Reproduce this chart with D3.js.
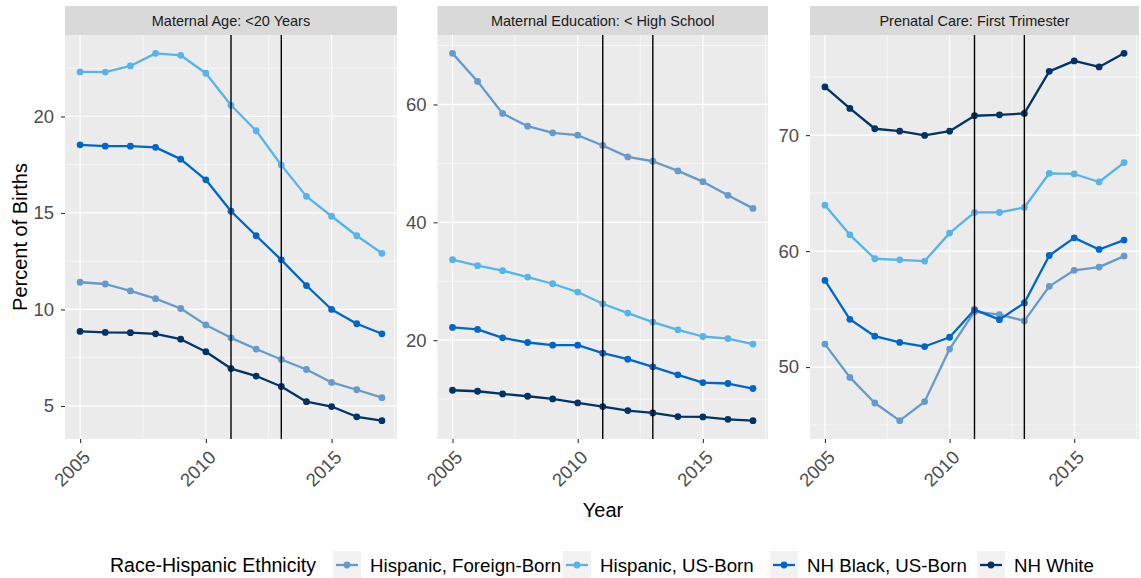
<!DOCTYPE html>
<html><head><meta charset="utf-8">
<script src="https://cdn.jsdelivr.net/npm/d3@7"></script>
<style>
body{margin:0;background:#fff;}
svg text{font-family:"Liberation Sans",Arial,sans-serif;}
</style></head>
<body><svg id="c" width="1141" height="578"></svg>
<script>
const years = [2005,2006,2007,2008,2009,2010,2011,2012,2013,2014,2015,2016,2017];
const seriesNames = ["Hispanic, Foreign-Born","Hispanic, US-Born","NH Black, US-Born","NH White"];
const seriesColors = ["#6699CC","#56B4E9","#0066CC","#003366"];
const panelTitles = ["Maternal Age: <20 Years","Maternal Education: < High School","Prenatal Care: First Trimester"];
const xTicks = [2005,2010,2015];
const vLines = [2011,2013];
const yTicks1 = [5,10,15,20];
const yTicks2 = [20,40,60];
const yTicks3 = [50,60,70];

// Panel 1: Maternal age <20
const age_hispFB = [11.41,11.32,10.96,10.56,10.05,9.20,8.53,7.95,7.41,6.89,6.22,5.84,5.43];
const age_hispUS = [22.31,22.30,22.62,23.27,23.17,22.24,20.58,19.26,17.48,15.86,14.83,13.82,12.91];
const age_black  = [18.53,18.46,18.46,18.40,17.79,16.72,15.09,13.82,12.57,11.24,10.00,9.26,8.74];
const age_white  = [8.86,8.81,8.80,8.74,8.46,7.81,6.94,6.55,6.01,5.22,4.97,4.44,4.24];
// Panel 2: Maternal education < high school
const edu_hispFB = [68.67,63.91,58.47,56.31,55.19,54.78,53.03,51.10,50.36,48.72,46.90,44.58,42.36];
const edu_hispUS = [33.66,32.64,31.79,30.71,29.57,28.16,26.17,24.59,23.06,21.75,20.62,20.27,19.33];
const edu_black  = [22.16,21.82,20.40,19.60,19.15,19.15,17.79,16.77,15.47,14.11,12.80,12.64,11.79];
const edu_white  = [11.50,11.33,10.88,10.48,10.03,9.35,8.73,8.05,7.65,7.03,6.97,6.57,6.34];
// Panel 3: Prenatal care first trimester
const pnc_hispFB = [51.98,49.11,46.90,45.38,47.02,51.55,54.78,54.52,53.98,56.96,58.34,58.62,59.57];
const pnc_hispUS = [63.96,61.40,59.34,59.25,59.14,61.55,63.33,63.33,63.76,66.71,66.65,65.96,67.63];
const pnc_black  = [57.47,54.12,52.66,52.12,51.77,52.57,54.95,54.09,55.53,59.62,61.14,60.14,60.95];
const pnc_white  = [74.16,72.30,70.55,70.34,69.97,70.34,71.67,71.75,71.87,75.50,76.40,75.88,77.05];

const panels = [
  {title:panelTitles[0], yTicks:yTicks1, series:[age_hispFB,age_hispUS,age_black,age_white], x0:65, x1:397},
  {title:panelTitles[1], yTicks:yTicks2, series:[edu_hispFB,edu_hispUS,edu_black,edu_white], x0:437.5, x1:768},
  {title:panelTitles[2], yTicks:yTicks3, series:[pnc_hispFB,pnc_hispUS,pnc_black,pnc_white], x0:810, x1:1139}
];

const svg = d3.select("#c");
const pTop = 35, pBottom = 439, stripTop = 6;

function expand(lo,hi){const r=hi-lo;return [lo-0.05*r, hi+0.05*r];}

panels.forEach(p=>{
  const xd = expand(d3.min(years), d3.max(years));
  const x = d3.scaleLinear().domain(xd).range([p.x0,p.x1]);
  const allv = p.series.flat();
  const yd = expand(d3.min(allv), d3.max(allv));
  const y = d3.scaleLinear().domain(yd).range([pBottom,pTop]);
  const g = svg.append("g");
  g.append("rect").attr("x",p.x0).attr("y",stripTop).attr("width",p.x1-p.x0).attr("height",pTop-stripTop).attr("fill","#d9d9d9");
  g.append("text").attr("x",(p.x0+p.x1)/2).attr("y",(stripTop+pTop)/2).attr("dy","0.35em")
    .attr("text-anchor","middle").attr("font-size","14.5px").attr("fill","#1a1a1a").text(p.title);
  g.append("rect").attr("x",p.x0).attr("y",pTop).attr("width",p.x1-p.x0).attr("height",pBottom-pTop).attr("fill","#ebebeb");
  const yStep = p.yTicks[1]-p.yTicks[0];
  const yMinor = [];
  for(let v=p.yTicks[0]-yStep/2; v<=yd[1]; v+=yStep){ if(v>=yd[0]) yMinor.push(v); }
  const xMinor = [];
  for(let v=xTicks[0]-2.5; v<=xd[1]; v+=5){ if(v>=xd[0]) xMinor.push(v); }
  g.selectAll(null).data(yMinor).enter().append("line")
    .attr("x1",p.x0).attr("x2",p.x1).attr("y1",d=>y(d)).attr("y2",d=>y(d))
    .attr("stroke","#fff").attr("stroke-width",0.6);
  g.selectAll(null).data(xMinor).enter().append("line")
    .attr("y1",pTop).attr("y2",pBottom).attr("x1",d=>x(d)).attr("x2",d=>x(d))
    .attr("stroke","#fff").attr("stroke-width",0.6);
  g.selectAll(null).data(p.yTicks).enter().append("line")
    .attr("x1",p.x0).attr("x2",p.x1).attr("y1",d=>y(d)).attr("y2",d=>y(d))
    .attr("stroke","#fff").attr("stroke-width",1.2);
  g.selectAll(null).data(xTicks).enter().append("line")
    .attr("y1",pTop).attr("y2",pBottom).attr("x1",d=>x(d)).attr("x2",d=>x(d))
    .attr("stroke","#fff").attr("stroke-width",1.2);
  const ya = d3.axisLeft(y).tickValues(p.yTicks).tickSize(4).tickPadding(7).tickFormat(d3.format("d"));
  const yg = g.append("g").attr("transform",`translate(${p.x0},0)`).call(ya);
  yg.select(".domain").remove();
  yg.selectAll(".tick line").attr("stroke","#333").attr("stroke-width",1.1);
  yg.selectAll(".tick text").attr("font-size","18.5px").attr("fill","#4d4d4d").attr("font-family","Liberation Sans, Arial, sans-serif");
  const xa = d3.axisBottom(x).tickValues(xTicks).tickSize(4).tickFormat(d3.format("d"));
  const xg = g.append("g").attr("transform",`translate(0,${pBottom})`).call(xa);
  xg.select(".domain").remove();
  xg.selectAll(".tick line").attr("stroke","#333").attr("stroke-width",1.1);
  xg.selectAll(".tick text").attr("font-size","18.5px").attr("fill","#4d4d4d").attr("font-family","Liberation Sans, Arial, sans-serif")
    .attr("text-anchor","end").attr("dy",null).attr("y",null)
    .attr("transform","translate(6,15) rotate(-45)").attr("dominant-baseline","central");
  const line = d3.line().x((d,i)=>x(years[i])).y(d=>y(d));
  p.series.forEach((s,k)=>{
    g.append("path").datum(s).attr("d",line).attr("fill","none")
      .attr("stroke",seriesColors[k]).attr("stroke-width",2.3).attr("stroke-linejoin","round");
    g.selectAll(null).data(s).enter().append("circle")
      .attr("cx",(d,i)=>x(years[i])).attr("cy",d=>y(d)).attr("r",3.4).attr("fill",seriesColors[k]);
  });
  g.selectAll(null).data(vLines).enter().append("line")
    .attr("y1",pTop).attr("y2",pBottom).attr("x1",d=>x(d)).attr("x2",d=>x(d))
    .attr("stroke","#000").attr("stroke-width",1.4);
});

svg.append("text").attr("x",603).attr("y",510).attr("dy","0.35em").attr("text-anchor","middle")
  .attr("font-size","20px").attr("fill","#000").text("Year");
svg.append("text").attr("transform","translate(20,237) rotate(-90)").attr("dy","0.35em").attr("text-anchor","middle")
  .attr("font-size","20px").attr("fill","#000").text("Percent of Births");

const lg = svg.append("g");
const ly = 565;
lg.append("text").attr("x",110).attr("y",ly).attr("dy","0.35em").attr("font-size","19.5px").attr("fill","#000").text("Race-Hispanic Ethnicity");
const keyX = [333,563,770,977];
seriesNames.forEach((n,k)=>{
  const cx = keyX[k];
  lg.append("rect").attr("x",cx).attr("y",ly-14).attr("width",28).attr("height",28).attr("fill","#f2f2f2");
  lg.append("line").attr("x1",cx+3).attr("x2",cx+25).attr("y1",ly).attr("y2",ly).attr("stroke",seriesColors[k]).attr("stroke-width",2.3);
  lg.append("circle").attr("cx",cx+14).attr("cy",ly).attr("r",3.4).attr("fill",seriesColors[k]);
  lg.append("text").attr("x",cx+37).attr("y",ly).attr("dy","0.35em").attr("font-size","18.7px").attr("fill","#000").text(n);
});
</script></body></html>
